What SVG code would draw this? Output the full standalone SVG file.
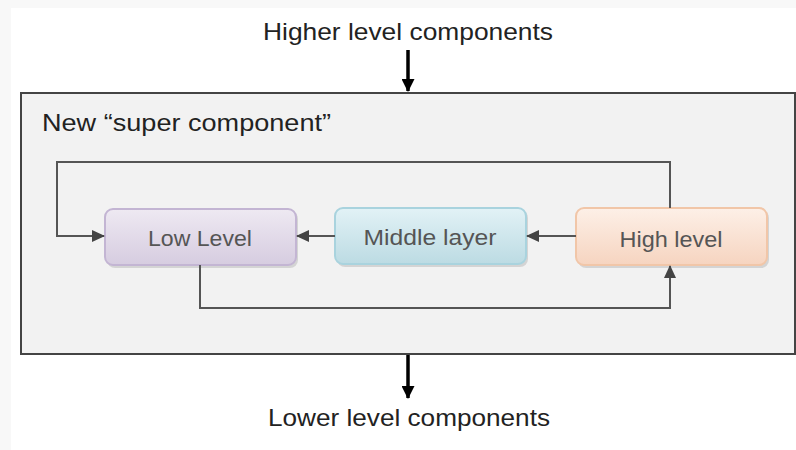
<svg xmlns="http://www.w3.org/2000/svg" width="796" height="450" viewBox="0 0 796 450">
<defs>
<linearGradient id="gLow" x1="0" y1="0" x2="0" y2="1"><stop offset="0" stop-color="#eee9f2"/><stop offset="1" stop-color="#d6cce0"/></linearGradient>
<linearGradient id="gMid" x1="0" y1="0" x2="0" y2="1"><stop offset="0" stop-color="#e2f2f6"/><stop offset="1" stop-color="#bcdbe3"/></linearGradient>
<linearGradient id="gHigh" x1="0" y1="0" x2="0" y2="1"><stop offset="0" stop-color="#fdf0e7"/><stop offset="1" stop-color="#f6d4c0"/></linearGradient>
<marker id="ag" markerWidth="13" markerHeight="12" refX="12" refY="6" orient="auto" markerUnits="userSpaceOnUse"><path d="M0,0 L13,6 L0,12 Z" fill="#444"/></marker>
<marker id="ab" markerWidth="13" markerHeight="13" refX="12" refY="6.5" orient="auto" markerUnits="userSpaceOnUse"><path d="M0,0 L13,6.5 L0,13 Z" fill="#000"/></marker>
</defs>
<style>
.t{font-family:"Liberation Sans",Arial,sans-serif;fill:#222}
.n{font-family:"Liberation Sans",Arial,sans-serif;fill:#555;font-size:22px;text-anchor:middle}
.c{fill:none;stroke:#555;stroke-width:2}
.b{fill:none;stroke:#000;stroke-width:3.5}
.sh{fill:#000;opacity:0.12}
</style>
<rect x="0" y="0" width="796" height="450" fill="#ffffff"/>
<rect x="0" y="0" width="11" height="450" fill="#f8f8f8"/>
<rect x="0" y="0" width="796" height="8" fill="#f8f8f8"/>
<g id="super">
<rect x="21" y="93" width="774" height="261" fill="#f2f2f2" stroke="#444" stroke-width="2"/>
<text class="t" x="42" y="131" font-size="24" textLength="289" lengthAdjust="spacingAndGlyphs">New “super component”</text>
</g>
<g id="low">
<rect class="sh" x="107" y="211" width="191" height="57" rx="8"/>
<rect x="105" y="209" width="191" height="56" rx="8" fill="url(#gLow)" stroke="#c3b5d3" stroke-width="2"/>
<text class="n" x="200" y="246" textLength="104" lengthAdjust="spacingAndGlyphs">Low Level</text>
</g>
<g id="middle">
<rect class="sh" x="337" y="210" width="191" height="57" rx="8"/>
<rect x="335" y="208" width="191" height="56" rx="8" fill="url(#gMid)" stroke="#a9d3de" stroke-width="2"/>
<text class="n" x="430" y="245" textLength="133" lengthAdjust="spacingAndGlyphs">Middle layer</text>
</g>
<g id="high">
<rect class="sh" x="578" y="210" width="191" height="58" rx="8"/>
<rect x="576" y="208" width="191" height="57" rx="8" fill="url(#gHigh)" stroke="#f1c6a8" stroke-width="2"/>
<text class="n" x="671" y="247" textLength="103" lengthAdjust="spacingAndGlyphs">High level</text>
</g>
<g id="connectors">
<path class="c" d="M576,236 H527" marker-end="url(#ag)"/>
<path class="c" d="M335,236 H297" marker-end="url(#ag)"/>
<path class="c" d="M670,208 V162 H57 V236 H104" marker-end="url(#ag)"/>
<path class="c" d="M200,265 V308 H670 V266" marker-end="url(#ag)"/>
<path class="b" d="M408,50 V91" marker-end="url(#ab)"/>
<path class="b" d="M408,355 V398" marker-end="url(#ab)"/>
</g>
<text class="t" x="408" y="40" font-size="24" text-anchor="middle" textLength="290" lengthAdjust="spacingAndGlyphs">Higher level components</text>
<text class="t" x="409" y="426" font-size="24" text-anchor="middle" textLength="282" lengthAdjust="spacingAndGlyphs">Lower level components</text>
</svg>
